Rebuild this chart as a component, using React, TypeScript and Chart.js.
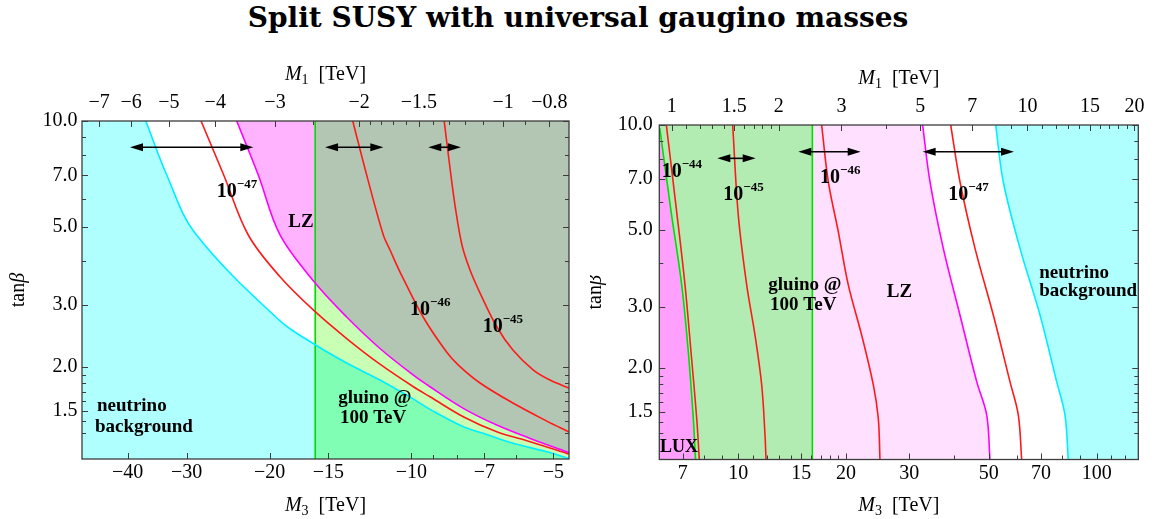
import React, { useEffect, useRef } from 'react';
import { Chart, registerables } from 'chart.js';
Chart.register(...registerables);

type Pt = [number, number];

// ---------- shared y axis (tan beta) ----------
const TANB_MIN = 1.093;
const TANB_MAX = 10;
const TANB_MAJOR = [1.5, 2, 3, 5, 7, 10];
const TANB_MINOR = [1.3, 1.4, 1.6, 1.7, 1.8, 1.9, 4, 6, 8, 9];

// ---------- left panel (negative gaugino masses, stored as |M|) ----------
const L_M3_MIN = 4.63;
const L_M3_MAX = 50;
const L_M1_MIN = 0.728;
const L_M1_MAX = 7.6;
const L_M3_MAJOR = [5, 7, 10, 15, 20, 30, 40];
const L_M3_MINOR = [6, 8, 9];
const L_M1_MAJOR = [0.8, 1, 1.5, 2, 3, 4, 5, 6, 7];
const L_M1_MINOR = [0.9, 1.1, 1.2, 1.3, 1.4, 1.6, 1.7, 1.8, 1.9, 2.5];
const L_GLUINO_M3 = 16.0;

// neutrino floor boundary; first two points lie above the frame (continuation off-plot)
const L_NEUTRINO: Pt[] = [[60, 14], [40.5, 14], [36.62, 10], [33.05, 7.02], [28.79, 4.8], [19.0, 2.7], [16.0, 2.31], [13.72, 2.05], [11.66, 1.833], [9.92, 1.62], [9.13, 1.513], [7.76, 1.35], [7.04, 1.293], [6.08, 1.211], [5.16, 1.146], [4.63, 1.095]];
const L_LZ: Pt[] = [[23.48, 10], [21.13, 7.02], [19.0, 4.74], [16.0, 3.46], [13.72, 2.77], [11.66, 2.254], [9.92, 1.896], [9.13, 1.754], [7.76, 1.523], [6.59, 1.365], [5.6, 1.251], [4.68, 1.146], [4.63, 1.14]];
const L_SIGMA47: Pt[] = [[27.95, 10], [25.02, 7.02], [22.19, 4.74], [19.0, 3.606], [16.0, 2.868], [13.72, 2.406], [11.66, 2.034], [9.92, 1.757], [9.13, 1.643], [7.76, 1.441], [6.59, 1.306], [5.6, 1.224], [4.68, 1.134], [4.63, 1.13]];
const L_SIGMA46: Pt[] = [[13.32, 10], [12.36, 6.79], [11.47, 4.74], [11.1, 4.295], [10.57, 3.719], [9.45, 2.775], [8.42, 2.202], [7.95, 2.022], [7.15, 1.798], [6.09, 1.577], [5.16, 1.401], [4.63, 1.304]];
const L_SIGMA45: Pt[] = [[8.52, 10], [8.322, 7.746], [8.083, 5.768], [7.811, 4.438], [7.51, 3.768], [7.15, 3.241], [6.59, 2.599], [6.09, 2.231], [5.51, 1.957], [5.08, 1.833], [4.63, 1.739]];
// arrows: [from |M3|, to |M3|, tan beta]
const L_ARROWS: [number, number, number][] = [[39.55, 21.65, 8.42], [15.25, 11.47, 8.42], [9.21, 7.85, 8.42]];
// labels: [text, superscript, |M3|, tan beta]
const L_LABELS: [string, string, number, number][] = [
  ['10', '\u221247', 25.88, 6.09],
  ['10', '\u221246', 10.07, 2.806],
  ['10', '\u221245', 7.059, 2.515],
  ['LZ', '', 18.25, 5.004],
  ['gluino @', '', 14.3, 1.574],
  ['100 TeV', '', 14.18, 1.38],
  ['neutrino', '', 46.47, 1.496],
  ['background', '', 46.93, 1.304],
];

// ---------- right panel (positive gaugino masses) ----------
const R_M3_MIN = 6.022;
const R_M3_MAX = 130.7;
const R_M1_MIN = 0.923;
const R_M1_MAX = 20.5;
const R_M3_MAJOR = [7, 10, 15, 20, 30, 50, 70, 100];
const R_M3_MINOR = [8, 9, 11, 12, 13, 14, 16, 17, 18, 19, 40, 60, 80, 90, 110, 120];
const R_M1_MAJOR = [1, 1.5, 2, 3, 5, 7, 10, 15, 20];
const R_M1_MINOR = [1.1, 1.2, 1.3, 1.4, 1.6, 1.7, 1.8, 1.9, 4, 9, 11, 12, 13, 14, 16, 17, 18, 19];
const R_GLUINO_M3 = 16.1;

const R_LUX: Pt[] = [[6.04, 9.8], [6.48, 5.74], [6.954, 3.47], [7.255, 2.23], [7.492, 1.436], [7.6, 1.093]];
const R_SIGMA44: Pt[] = [[6.3, 10], [6.716, 5.76], [7.103, 3.47], [7.382, 2.23], [7.658, 1.436], [7.787, 1.093]];
const R_SIGMA45: Pt[] = [[9.65, 10], [10.003, 5.51], [10.558, 3.47], [11.137, 2.49], [11.627, 1.79], [11.876, 1.286], [11.953, 1.093]];
const R_SIGMA46: Pt[] = [[17.09, 10], [17.835, 6.87], [19.016, 4.94], [20.28, 3.47], [22.1, 2.49], [23.82, 1.79], [24.59, 1.436], [24.86, 1.093]];
// LZ boundary; first two points lie above the frame (continuation off-plot)
const R_LZ: Pt[] = [[4.8, 13.92], [31.39, 13.92], [32.7, 10], [34.28, 6.87], [37.34, 4.42], [41.56, 2.844], [46.28, 1.83], [49.34, 1.468], [50.4, 1.093]];
const R_SIGMA47: Pt[] = [[39.16, 10], [41.56, 6.87], [45.78, 4.42], [51.48, 2.844], [57.3, 1.83], [60.45, 1.468], [61.79, 1.093]];
// neutrino floor; last two points lie below the frame (continuation off-plot)
const R_NEUTRINO: Pt[] = [[52.28, 10], [54.89, 6.87], [61.12, 4.42], [69.5, 2.844], [77.35, 1.83], [81.59, 1.468], [83.34, 1.093], [85.0, 0.836], [157, 0.836]];
const R_ARROWS: [number, number, number][] = [[8.742, 11.187, 8.02], [14.71, 21.96, 8.38], [32.7, 58.81, 8.38]];
const R_LABELS: [string, string, number, number][] = [
  ['10', '\u221244', 6.115, 7.104],
  ['10', '\u221245', 9.085, 6.088],
  ['10', '\u221246', 16.91, 6.8],
  ['10', '\u221247', 38.56, 6.088],
  ['gluino @', '', 12.13, 3.357],
  ['100 TeV', '', 12.27, 2.94],
  ['LZ', '', 25.96, 3.205],
  ['neutrino', '', 69.19, 3.626],
  ['background', '', 69.19, 3.215],
  ['LUX', '', 6.05, 1.151],
];

const SERIF = '"Liberation Serif", "Times New Roman", serif';
const RED = '#ff1a1a';
const CYAN = '#00eeff';
const MAGENTA = '#ff00ff';
const GREEN = '#00dd00';
const FRAME = '#3c3c3c';
const TENSION = 0.35;

type AxisCfg = { min: number; max: number; reverse: boolean; major: number[]; minor: number[]; fmt: (v: number) => string; pad: number };
type Panel = {
  yWidth: number; topH: number; bottomH: number; padRight: number; yPad: number;
  x: AxisCfg; x2: AxisCfg;
  datasets: any[];
  arrows: [number, number, number][];
  labels: [string, string, number, number][];
};

const pts = (d: Pt[]) => d.map(([x, y]) => ({ x, y }));
const curve = (d: Pt[], color: string, w = 1.6) => ({
  type: 'line', data: pts(d), borderColor: color, borderWidth: w, pointRadius: 0, fill: false, tension: TENSION, order: 1,
});
const area = (d: Pt[], color: string, fill: 'start' | 'end', order: number, segColor?: (a: number, b: number) => string) => ({
  type: 'line', data: pts(d), borderWidth: 0, borderColor: 'rgba(0,0,0,0)', backgroundColor: color, pointRadius: 0, fill, tension: TENSION, order,
  ...(segColor ? { segment: { backgroundColor: (c: any) => segColor(c.p0.parsed.x, c.p1.parsed.x) } } : {}),
});

function drawRich(ctx: CanvasRenderingContext2D, parts: { t: string; f: string; dy: number }[], x: number, y: number, align: 'left' | 'center') {
  let total = 0;
  for (const p of parts) { ctx.font = p.f; total += ctx.measureText(p.t).width; }
  let cx = align === 'center' ? x - total / 2 : x;
  ctx.textAlign = 'left';
  ctx.textBaseline = 'alphabetic';
  for (const p of parts) {
    ctx.font = p.f;
    ctx.fillText(p.t, cx, y + p.dy);
    cx += ctx.measureText(p.t).width;
  }
}

function makePlugin(p: Panel) {
  return {
    id: 'decor',
    afterDatasetsDraw(chart: any) {
      const { ctx, chartArea: a, scales } = chart;
      const sx = scales.x, sx2 = scales.x2, sy = scales.y;
      ctx.save();
      // arrows
      ctx.strokeStyle = '#000';
      ctx.fillStyle = '#000';
      ctx.lineWidth = 1.6;
      for (const [f, t, yv] of p.arrows) {
        let x1 = sx.getPixelForValue(f), x2 = sx.getPixelForValue(t);
        if (x1 > x2) { const tmp = x1; x1 = x2; x2 = tmp; }
        const yy = sy.getPixelForValue(yv);
        ctx.beginPath(); ctx.moveTo(x1 + 6, yy); ctx.lineTo(x2 - 6, yy); ctx.stroke();
        ctx.beginPath(); ctx.moveTo(x1, yy); ctx.lineTo(x1 + 13, yy - 4); ctx.lineTo(x1 + 13, yy + 4); ctx.closePath(); ctx.fill();
        ctx.beginPath(); ctx.moveTo(x2, yy); ctx.lineTo(x2 - 13, yy - 4); ctx.lineTo(x2 - 13, yy + 4); ctx.closePath(); ctx.fill();
      }
      // in-plot labels
      for (const [t, s, xv, yv] of p.labels) {
        const px = sx.getPixelForValue(xv), py = sy.getPixelForValue(yv);
        if (s) {
          drawRich(ctx, [{ t, f: `bold 20px ${SERIF}`, dy: 0 }, { t: s, f: `bold 13px ${SERIF}`, dy: -9 }], px, py, 'left');
        } else {
          drawRich(ctx, [{ t, f: `bold ${t === 'LUX' ? 18 : 19}px ${SERIF}`, dy: 0 }], px, py, 'left');
        }
      }
      // inward ticks
      ctx.strokeStyle = FRAME;
      ctx.lineWidth = 1;
      const vt = (x: number, y0: number, len: number) => { ctx.beginPath(); ctx.moveTo(Math.round(x) + 0.5, y0); ctx.lineTo(Math.round(x) + 0.5, y0 + len); ctx.stroke(); };
      const ht = (y: number, x0: number, len: number) => { ctx.beginPath(); ctx.moveTo(x0, Math.round(y) + 0.5); ctx.lineTo(x0 + len, Math.round(y) + 0.5); ctx.stroke(); };
      for (const v of p.x.major) vt(sx.getPixelForValue(v), a.bottom, -6);
      for (const v of p.x.minor) vt(sx.getPixelForValue(v), a.bottom, -4);
      for (const v of p.x2.major) vt(sx2.getPixelForValue(v), a.top, 6);
      for (const v of p.x2.minor) vt(sx2.getPixelForValue(v), a.top, 4);
      for (const v of TANB_MAJOR) { const y = sy.getPixelForValue(v); ht(y, a.left, 6); ht(y, a.right, -6); }
      for (const v of TANB_MINOR) { const y = sy.getPixelForValue(v); ht(y, a.left, 4); ht(y, a.right, -4); }
      // frame
      ctx.lineWidth = 1.3;
      ctx.strokeRect(a.left, a.top, a.right - a.left, a.bottom - a.top);
      // axis titles
      ctx.fillStyle = '#000';
      const cxm = (a.left + a.right) / 2;
      drawRich(ctx, [{ t: 'M', f: `italic 20px ${SERIF}`, dy: 0 }, { t: '1', f: `14px ${SERIF}`, dy: 4 }, { t: '  [TeV]', f: `20px ${SERIF}`, dy: 0 }], cxm, a.top - 41, 'center');
      drawRich(ctx, [{ t: 'M', f: `italic 20px ${SERIF}`, dy: 0 }, { t: '3', f: `14px ${SERIF}`, dy: 4 }, { t: '  [TeV]', f: `20px ${SERIF}`, dy: 0 }], cxm, a.bottom + 51.5, 'center');
      ctx.save();
      ctx.translate(a.left - 58, (a.top + a.bottom) / 2);
      ctx.rotate(-Math.PI / 2);
      drawRich(ctx, [{ t: 'tan', f: `20px ${SERIF}`, dy: 0 }, { t: '\u03b2', f: `italic 20px ${SERIF}`, dy: 0 }], 0, 0, 'center');
      ctx.restore();
      ctx.restore();
    },
  };
}

function buildChart(canvas: HTMLCanvasElement, p: Panel) {
  const tickFont = { family: SERIF, size: 20 };
  const axis = (ax: AxisCfg, position: 'bottom' | 'top', h: number) => ({
    type: 'logarithmic', position, min: ax.min, max: ax.max, reverse: ax.reverse, bounds: 'data',
    grid: { display: false, drawTicks: false }, border: { display: false },
    afterBuildTicks: (s: any) => { s.ticks = ax.major.map((v) => ({ value: v })); },
    afterFit: (s: any) => { s.height = h; },
    ticks: { autoSkip: false, maxRotation: 0, minRotation: 0, padding: ax.pad, color: '#000', font: tickFont, callback: (v: any) => ax.fmt(Number(v)) },
  });
  return new Chart(canvas, {
    type: 'line',
    data: { datasets: p.datasets },
    options: {
      responsive: false, animation: false, devicePixelRatio: 1,
      layout: { padding: { left: 0, right: p.padRight, top: 0, bottom: 0 } },
      elements: { line: { capBezierPoints: false } },
      plugins: { legend: { display: false }, tooltip: { enabled: false }, title: { display: false } },
      events: [],
      scales: {
        x: axis(p.x, 'bottom', p.bottomH),
        x2: axis(p.x2, 'top', p.topH),
        y: {
          type: 'logarithmic', min: TANB_MIN, max: TANB_MAX, bounds: 'data',
          grid: { display: false, drawTicks: false }, border: { display: false },
          afterBuildTicks: (s: any) => { s.ticks = TANB_MAJOR.map((v) => ({ value: v })); },
          afterFit: (s: any) => { s.width = p.yWidth; },
          ticks: { autoSkip: false, padding: p.yPad, color: '#000', font: tickFont, callback: (v: any) => Number(v).toFixed(1) },
        },
      },
    } as any,
    plugins: [makePlugin(p)],
  } as any);
}

const neg = (v: number) => '\u2212' + String(v);
const pos = (v: number) => String(v);

export default function App() {
  const lRef = useRef<HTMLCanvasElement>(null);
  const rRef = useRef<HTMLCanvasElement>(null);
  useEffect(() => {
    const rightOfLine = (a: number, b: number) => Math.max(a, b) <= L_GLUINO_M3 + 1e-9;
    const left: Panel = {
      yWidth: 82, topH: 121, bottomH: 60, padRight: 21, yPad: 4.5,
      x: { min: L_M3_MIN, max: L_M3_MAX, reverse: true, major: L_M3_MAJOR, minor: L_M3_MINOR, fmt: neg, pad: 2 },
      x2: { min: L_M1_MIN, max: L_M1_MAX, reverse: true, major: L_M1_MAJOR, minor: L_M1_MINOR, fmt: neg, pad: 6 },
      arrows: L_ARROWS, labels: L_LABELS,
      datasets: [
        curve(L_NEUTRINO, CYAN), curve(L_LZ, MAGENTA), curve(L_SIGMA47, RED), curve(L_SIGMA46, RED), curve(L_SIGMA45, RED),
        curve([[L_GLUINO_M3, TANB_MIN], [L_GLUINO_M3, TANB_MAX]], GREEN),
        area(L_NEUTRINO, '#b0ffff', 'start', 80, (a, b) => (rightOfLine(a, b) ? '#80ffb4' : '#b0ffff')),
        area(L_LZ, '#ffb3ff', 'end', 80, (a, b) => (rightOfLine(a, b) ? '#b3c6b3' : '#ffb3ff')),
        area([[L_GLUINO_M3, TANB_MAX], [L_M3_MIN, TANB_MAX]], '#c8ffb4', 'start', 100),
      ],
    };
    const right: Panel = {
      yWidth: 69.3, topH: 125, bottomH: 59.5, padRight: 17.7, yPad: 6.5,
      x: { min: R_M3_MIN, max: R_M3_MAX, reverse: false, major: R_M3_MAJOR, minor: R_M3_MINOR, fmt: pos, pad: 2 },
      x2: { min: R_M1_MIN, max: R_M1_MAX, reverse: false, major: R_M1_MAJOR, minor: R_M1_MINOR, fmt: pos, pad: 6 },
      arrows: R_ARROWS, labels: R_LABELS,
      datasets: [
        curve(R_LUX, GREEN), curve(R_SIGMA44, RED), curve(R_SIGMA45, RED), curve(R_SIGMA46, RED),
        curve(R_LZ, MAGENTA), curve(R_SIGMA47, RED), curve(R_NEUTRINO, CYAN),
        curve([[R_GLUINO_M3, TANB_MIN], [R_GLUINO_M3, TANB_MAX]], GREEN),
        area(R_LUX, '#ffa0ff', 'start', 60),
        area([[R_M3_MIN, TANB_MAX], [R_GLUINO_M3, TANB_MAX]], '#b3ecb3', 'start', 70),
        area(R_LZ, '#ffe0ff', 'start', 80),
        area(R_NEUTRINO, '#b0ffff', 'end', 100),
      ],
    };
    const c1 = buildChart(lRef.current!, left);
    const c2 = buildChart(rRef.current!, right);
    return () => { c1.destroy(); c2.destroy(); };
  }, []);
  return (
    <div style={{ position: 'absolute', left: 0, top: 0, width: 1156, height: 519, background: '#fff', overflow: 'hidden' }}>
      <div style={{ position: 'absolute', left: 0, top: 2, width: 1156, textAlign: 'center', font: `bold 28px "DejaVu Serif", serif`, lineHeight: '32px', color: '#000' }}>
        Split SUSY with universal gaugino masses
      </div>
      <canvas ref={lRef} width={590} height={519} style={{ position: 'absolute', left: 0, top: 0, width: 590, height: 519 }} />
      <canvas ref={rRef} width={566} height={519} style={{ position: 'absolute', left: 590, top: 0, width: 566, height: 519 }} />
    </div>
  );
}
